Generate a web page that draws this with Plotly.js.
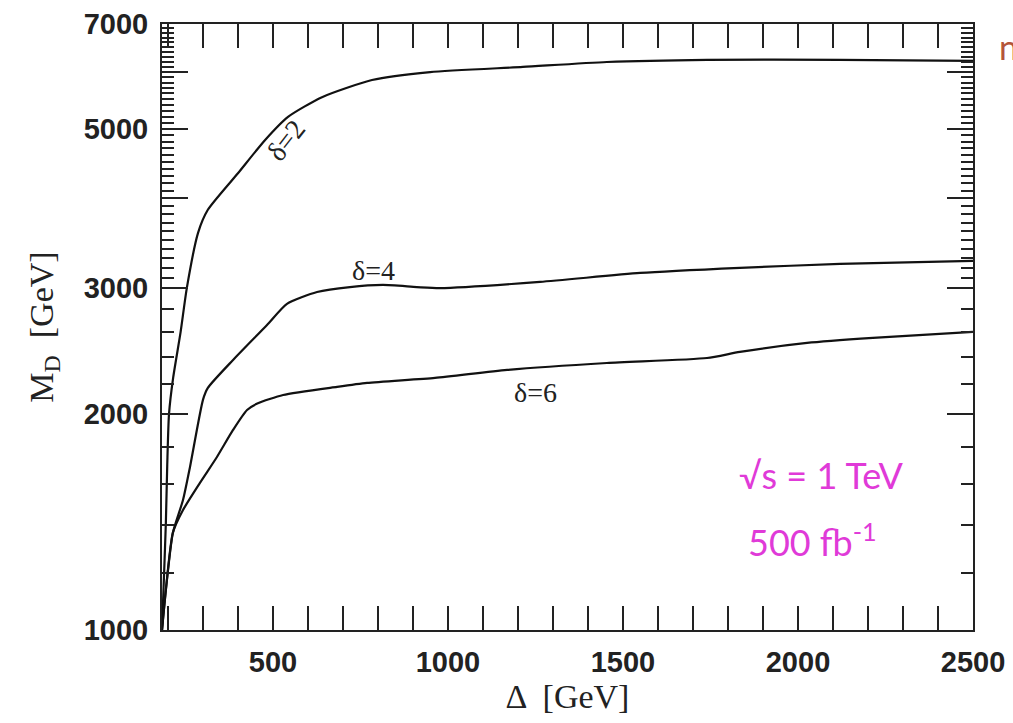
<!DOCTYPE html>
<html>
<head>
<meta charset="utf-8">
<script src="https://cdn.plot.ly/plotly-3.0.1.min.js"></script>
<style>html,body{margin:0;padding:0;background:#fff;}#chart{width:1013px;height:723px;}</style>
</head>
<body>
<div id="chart"></div>
<script>
// Δ [GeV] and M_D [GeV]
const delta2_x = [183, 189, 194, 198, 203, 215, 236, 254, 286, 314, 400, 477, 543, 640, 783, 949, 1214, 1454, 1740, 2120, 2500];
const delta2_y = [1000, 1200, 1410, 1700, 2000, 2250, 2600, 3000, 3580, 3855, 4335, 4820, 5195, 5535, 5848, 5998, 6098, 6196, 6240, 6240, 6218];

const delta4_x = [183, 194, 214, 243, 263, 300, 314, 386, 483, 540, 626, 720, 814, 911, 977, 1263, 1549, 1834, 2120, 2500];
const delta4_y = [1000, 1137, 1366, 1518, 1688, 2094, 2176, 2380, 2663, 2850, 2960, 3008, 3028, 3008, 2998, 3058, 3147, 3199, 3240, 3271];

const delta6_x = [183, 194, 214, 243, 291, 340, 386, 426, 457, 529, 683, 769, 963, 1169, 1454, 1740, 1834, 2026, 2214, 2500];
const delta6_y = [1000, 1137, 1366, 1470, 1603, 1743, 1901, 2027, 2071, 2127, 2183, 2211, 2247, 2305, 2357, 2395, 2442, 2514, 2555, 2604];

const curveLabels = ["δ=2", "δ=4", "δ=6"];
const xTickVals = [500, 1000, 1500, 2000, 2500];
const xTickText = ["500", "1000", "1500", "2000", "2500"];
const yTickVals = [1000, 2000, 3000, 5000, 7000];
const yTickText = ["1000", "2000", "3000", "5000", "7000"];
const yLongUnlabelled = [4000, 6000];
const yMinorVals = [1200, 1400, 1600, 1800, 2200, 2400, 2600, 2800,
  3100, 3200, 3300, 3400, 3500, 3600, 3700, 3800, 3900,
  4100, 4200, 4300, 4400, 4500, 4600, 4700, 4800, 4900,
  5100, 5200, 5300, 5400, 5500, 5600, 5700, 5800, 5900,
  6100, 6200, 6300, 6400, 6500, 6600, 6700, 6800, 6900];
const xMinorVals = [200, 300, 400, 600, 700, 800, 900, 1100, 1200, 1300, 1400, 1600, 1700, 1800, 1900, 2100, 2200, 2300, 2400];
const noteLines = ["√s = 1 TeV", "500 fb<sup>-1</sup>"];

const lineStyle = {color: "#111", width: 2.2, shape: "spline", smoothing: 0.6};
const traces = [
  {x: delta2_x, y: delta2_y, mode: "lines", line: lineStyle, name: curveLabels[0], hoverinfo: "skip"},
  {x: delta4_x, y: delta4_y, mode: "lines", line: lineStyle, name: curveLabels[1], hoverinfo: "skip"},
  {x: delta6_x, y: delta6_y, mode: "lines", line: lineStyle, name: curveLabels[2], hoverinfo: "skip"},
  {x: [], y: [], yaxis: "y2", mode: "lines", hoverinfo: "skip", showlegend: false}
];

const tickFont = {family: "Liberation Sans, Arial, sans-serif", size: 29, color: "#222", weight: "bold"};
const titleFont = {family: "Liberation Serif, Times New Roman, serif", size: 34, color: "#222"};
const labelFont = {family: "Liberation Serif, serif", size: 28, color: "#222"};
const noteFont = {family: "Lato, sans-serif", size: 36, color: "#e03ad8"};
const layout = {
  width: 1013, height: 723,
  margin: {l: 162, r: 40, t: 24, b: 93},
  paper_bgcolor: "#fff", plot_bgcolor: "rgba(0,0,0,0)",
  showlegend: false,
  xaxis: {
    range: [183, 2500], showgrid: false, zeroline: false,
    showline: true, linecolor: "#222", linewidth: 2, mirror: "allticks",
    ticks: "inside", ticklen: 24, tickwidth: 2, tickcolor: "#222",
    tickmode: "array", tickvals: xTickVals, ticktext: xTickText,
    tickfont: tickFont, ticklabelstandoff: 5,
    minor: {tickmode: "array", tickvals: xMinorVals, ticks: "inside", ticklen: 11, tickwidth: 2, tickcolor: "#222", showgrid: false},
    title: {text: "Δ  [GeV]", font: titleFont, standoff: 2}
  },
  yaxis: {
    type: "log", range: [3, Math.log10(7000)], showgrid: false, zeroline: false,
    showline: true, linecolor: "#222", linewidth: 2, mirror: "allticks",
    ticks: "inside", ticklen: 26, tickwidth: 2, tickcolor: "#222",
    tickmode: "array", tickvals: yTickVals, ticktext: yTickText,
    tickfont: tickFont, ticklabelstandoff: 6,
    minor: {tickmode: "array", tickvals: yMinorVals, ticks: "inside", ticklen: 12, tickwidth: 2, tickcolor: "#222", showgrid: false},
    title: {text: "M<sub>D</sub>  [GeV]", font: titleFont, standoff: 20}
  },
  yaxis2: {
    type: "log", range: [3, Math.log10(7000)], overlaying: "y", side: "left",
    showgrid: false, zeroline: false, showline: false, mirror: "ticks",
    ticks: "inside", ticklen: 26, tickwidth: 2, tickcolor: "#222",
    tickmode: "array", tickvals: yLongUnlabelled, showticklabels: false
  },
  annotations: [
    {x: 286, y: 141, text: curveLabels[0], textangle: -52, font: labelFont},
    {x: 373, y: 270, text: curveLabels[1], font: labelFont},
    {x: 535, y: 392, text: curveLabels[2], font: labelFont},
    {x: 821, y: 475, text: noteLines[0], font: noteFont},
    {x: 812, y: 540, text: noteLines[1], font: noteFont},
    {x: 1009, y: 47, text: "n", font: {family: "Lato, sans-serif", size: 34, color: "#b4553a"}}
  ]
};
// annotations are placed by pixel position in the 1013x723 frame; convert to paper coords
const pw = 1013 - 162 - 40, ph = 723 - 24 - 93;
layout.annotations.forEach(a => {
  a.x = (a.x - 162) / pw;
  a.y = (630 - a.y) / ph;
  a.xref = "paper"; a.yref = "paper";
  a.xanchor = "center"; a.yanchor = "middle";
  a.showarrow = false;
});
Plotly.newPlot("chart", traces, layout, {staticPlot: true});
</script>
</body>
</html>
